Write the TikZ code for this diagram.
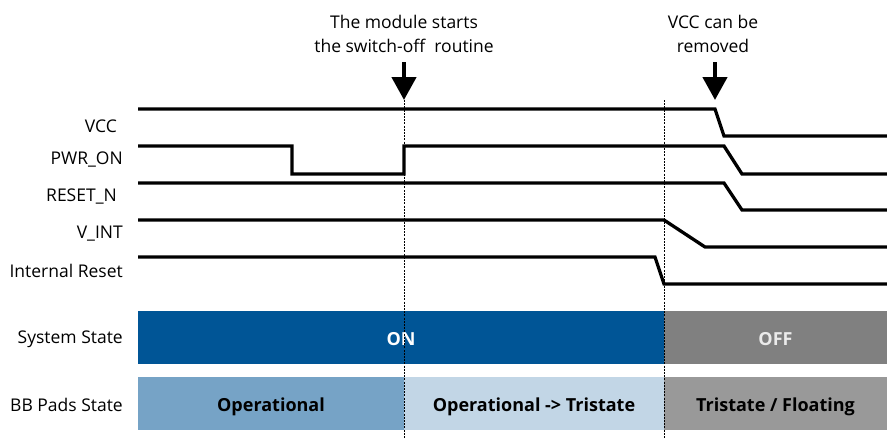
\documentclass[tikz,border=0pt]{standalone}
\usepackage{fontspec}
\setmainfont{Open Sans}
\usetikzlibrary{arrows.meta}
\definecolor{onblue}{RGB}{0,85,150}
\definecolor{opblue}{RGB}{118,163,198}
\definecolor{triblue}{RGB}{194,214,230}
\definecolor{offgray}{RGB}{128,128,128}
\definecolor{floatgray}{RGB}{153,153,153}
\tikzstyle{sig} = [draw, line width=3.3pt, line join=miter]
\tikzstyle{siglabel} = [anchor=east, inner sep=0pt, font=\fontsize{17.5}{20}\selectfont]
\tikzstyle{bar} = [rectangle, inner sep=0pt, minimum height=53pt, text height=16pt, text depth=0pt,
    font=\fontsize{18}{20}\selectfont\bfseries]
\tikzstyle{timemark} = [dashed, dash pattern=on 2pt off 1.2pt, line width=0.9pt]
\tikzstyle{note} = [align=center, inner sep=0pt, font=\fontsize{17.5}{24}\selectfont]
\tikzstyle{event} = [line width=4.5pt, -{Triangle[width=24pt,length=23pt]}]

\begin{document}
\begin{tikzpicture}[x=1pt, y=-1pt]
	\useasboundingbox (0,0) rectangle (887,439);

		% signal names
		\node [siglabel] (vcc) at (117,126) {VCC};
		\node [siglabel] (pwron) at (123,160) {PWR\_ON};
		\node [siglabel] (resetn) at (117,197) {RESET\_N};
		\node [siglabel] (vint) at (123,234) {V\_INT};
		\node [siglabel] (intreset) at (123,271) {Internal Reset};
		\node [siglabel] (sysstate) at (123,339) {System State};
		\node [siglabel] (padstate) at (123,405) {BB Pads State};

		% waveforms
		\path [sig] (138,109) -- (715,109) -- (724,136) -- (887,136);
		\path [sig] (138,146) -- (292,146) -- (292,174) -- (404,174) -- (404,146)
			-- (724,146) -- (742,174) -- (887,174);
		\path [sig] (138,183) -- (724,183) -- (742,210) -- (887,210);
		\path [sig] (138,220) -- (664,220) -- (705,247) -- (887,247);
		\path [sig] (138,257) -- (655,257) -- (664,284) -- (887,284);

		% state bars
		\node [bar, fill=onblue, text=white, minimum width=526pt] (on) at (401,337.5) {ON};
		\node [bar, fill=offgray, text=white!92!black, minimum width=223pt] (off) at (775.5,337.5) {OFF};
		\node [bar, fill=opblue, minimum width=266pt] (operational) at (271,403) {Operational};
		\node [bar, fill=triblue, minimum width=260pt] (totristate) at (534,403) {Operational -> Tristate};
		\node [bar, fill=floatgray, minimum width=223pt] (floating) at (775.5,403) {Tristate / Floating};

		% events
		\node [note] (switchoff) at (404,34) {The module starts\\the switch-off\ \ routine};
		\node [note] (remove) at (713,34) {VCC can be\\removed};
		\coordinate (switchtip) at (404,100);
		\coordinate (removetip) at (715,100);
		\coordinate (switchtop) at (404,62);
		\coordinate (removetop) at (715,62);
		\draw [event] (switchtop) -- (switchtip);
		\draw [event] (removetop) -- (removetip);

		\draw [timemark] (switchtip) -- (404,439);
		\draw [timemark] (664,100) -- (664,439);
	\end{tikzpicture}
\end{document}
